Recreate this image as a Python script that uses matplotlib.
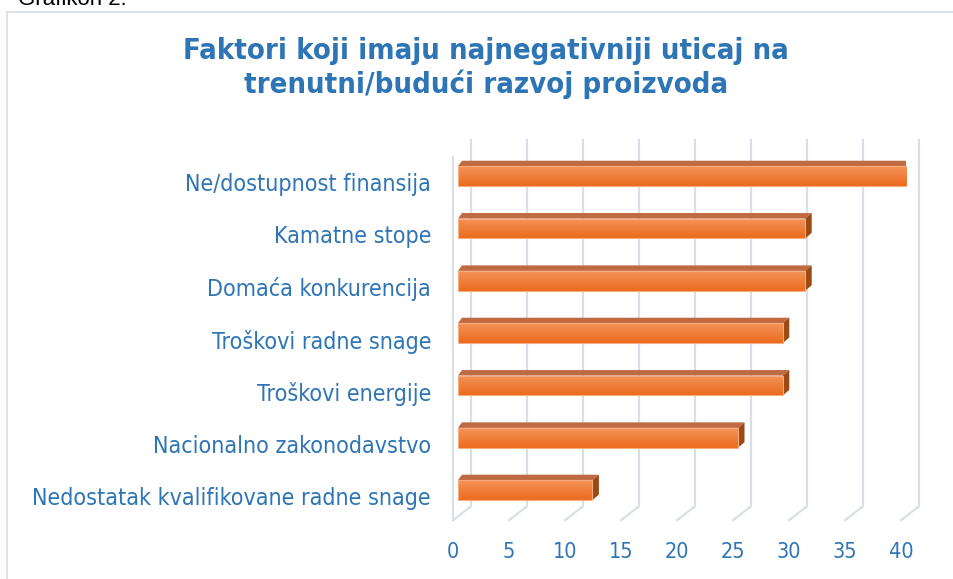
"""
Grafikon 2: faktori s najnegativnijim uticajem na razvoj proizvoda.

Excel-style 3D horizontal bar chart rebuilt in plain matplotlib: the
axes is the front plane of the bars, and the back wall, floor and the
bar roofs/sides are drawn by shifting data points a few screen pixels.
"""

import numpy as np
import matplotlib
matplotlib.use("Agg")
import matplotlib.pyplot as plt
from matplotlib.patches import Polygon, Rectangle
from matplotlib.transforms import ScaledTranslation

TITLE = "Faktori koji imaju najnegativniji uticaj na\ntrenutni/budući razvoj proizvoda"
CATEGORIES = [
    "Ne/dostupnost finansija",
    "Kamatne stope",
    "Domaća konkurencija",
    "Troškovi radne snage",
    "Troškovi energije",
    "Nacionalno zakonodavstvo",
    "Nedostatak kvalifikovane radne snage",
]
VALUES = [40, 31, 31, 29, 29, 25, 12]
X_TICKS = [0, 5, 10, 15, 20, 25, 30, 35, 40]

BLUE = "#2E75B6"
GRID = "#d9dee7"
FRAME = "#dde2ea"
FACE_TOP = "#f4935a"
FACE_BOTTOM = "#eb6b1c"
FACE_EDGE = "#f7ad80"
ROOF = "#bf6a41"
SIDE = "#9b4a15"

W, H, DPI = 954, 579, 100
BAR_H = 0.38
BACK = (13, 10)      # back wall offset from bar plane, px
FRONT = (-5, -4)     # front floor edge offset, px
DEPTH = (6.5, 5.5)   # bar roof/side depth, px
FONT = "DejaVu Sans"

fig = plt.figure(figsize=(W / DPI, H / DPI), dpi=DPI)
ax = fig.add_axes([458 / W, 1 - 516.3 / H, 448 / W, 366.3 / H])
ax.set_xlim(0, 40)
ax.set_ylim(len(CATEGORIES) - 0.5, -0.5)
for s in ax.spines.values():
    s.set_visible(False)


def shift(x, y, dx, dy):
    """Move data points by dx, dy screen pixels (dy is upward)."""
    pts = ax.transData.transform(np.column_stack([np.atleast_1d(x), np.atleast_1d(y)]))
    pts = pts + np.array([dx, dy])
    return ax.transData.inverted().transform(pts)


y_top, y_bot = -0.5, len(CATEGORIES) - 0.5

# back wall gridlines + floor diagonals
for t in X_TICKS:
    pts = np.vstack([shift(t, y_top, *BACK), shift(t, y_bot, *BACK), shift(t, y_bot, *FRONT)])
    ax.plot(pts[:, 0], pts[:, 1], color=GRID, lw=1.6, clip_on=False, zorder=1)

# left wall front edge
wall = np.vstack([shift(0, y_top, FRONT[0], FRONT[1] - 3), shift(0, y_bot, *FRONT)])
ax.plot(wall[:, 0], wall[:, 1], color=GRID, lw=1.6, clip_on=False, zorder=1)

# bars: gradient front face, roof and side
ypos = np.arange(len(CATEGORIES))
bars = ax.barh(ypos, VALUES, height=BAR_H, color="none", edgecolor=FACE_EDGE,
               linewidth=0.8, zorder=4)
grad = np.linspace(0, 1, 64).reshape(-1, 1)
cmap = matplotlib.colors.LinearSegmentedColormap.from_list("face", [FACE_TOP, FACE_BOTTOM])
for y, v, bar in zip(ypos, VALUES, bars):
    top, bot = y - BAR_H / 2, y + BAR_H / 2
    img = ax.imshow(grad, cmap=cmap, aspect="auto", extent=(0, v, bot, top),
                    origin="upper", zorder=3)
    img.set_clip_path(bar)

    roof = np.vstack([[0, top], [v, top], shift(v, top, *DEPTH),
                      shift(0, top, DEPTH[0] - 2.5, DEPTH[1])])
    ax.add_patch(Polygon(roof, closed=True, facecolor=ROOF, edgecolor="none", zorder=2))
    side = np.vstack([[v, top], [v, bot], shift(v, bot, *DEPTH), shift(v, top, *DEPTH)])
    ax.add_patch(Polygon(side, closed=True, facecolor=SIDE, edgecolor="none", zorder=2))

ax.set_xlim(0, 40)
ax.set_ylim(y_bot, y_top)

# tick labels
ax.set_xticks(X_TICKS)
ax.set_yticks(ypos, CATEGORIES)
ax.tick_params(axis="x", length=0, pad=18.5, labelsize=15.5, labelcolor=BLUE)
ax.tick_params(axis="y", length=0, pad=19.4, labelsize=16.7, labelcolor=BLUE)
for lbl in ax.get_xticklabels():
    lbl.set_fontfamily(FONT)
    lbl.set_fontstretch("condensed")
    lbl.set_transform(lbl.get_transform() + ScaledTranslation(FRONT[0] / DPI, 0, fig.dpi_scale_trans))
for lbl in ax.get_yticklabels():
    lbl.set_fontfamily(FONT)
    lbl.set_fontstretch("condensed")
    lbl.set_transform(lbl.get_transform() + ScaledTranslation(0, -6 / DPI, fig.dpi_scale_trans))

# title and frame
fig.text(486 / W, 1 - 68 / H, TITLE, ha="center", va="center", fontsize=21,
         fontweight="bold", fontstretch="condensed", family=FONT, color=BLUE,
         linespacing=1.15)
fig.text(18 / W, 1 - 5 / H, "Grafikon 2.", ha="left", va="baseline", fontsize=16,
         family="Liberation Sans", color="black")
fig.patches.append(Rectangle((7.5 / W, -0.05), 1.2, 1 - 11.5 / H + 0.05,
                             transform=fig.transFigure, fill=False,
                             edgecolor=FRAME, lw=1.5))

fig.savefig("out.png", dpi=DPI)
